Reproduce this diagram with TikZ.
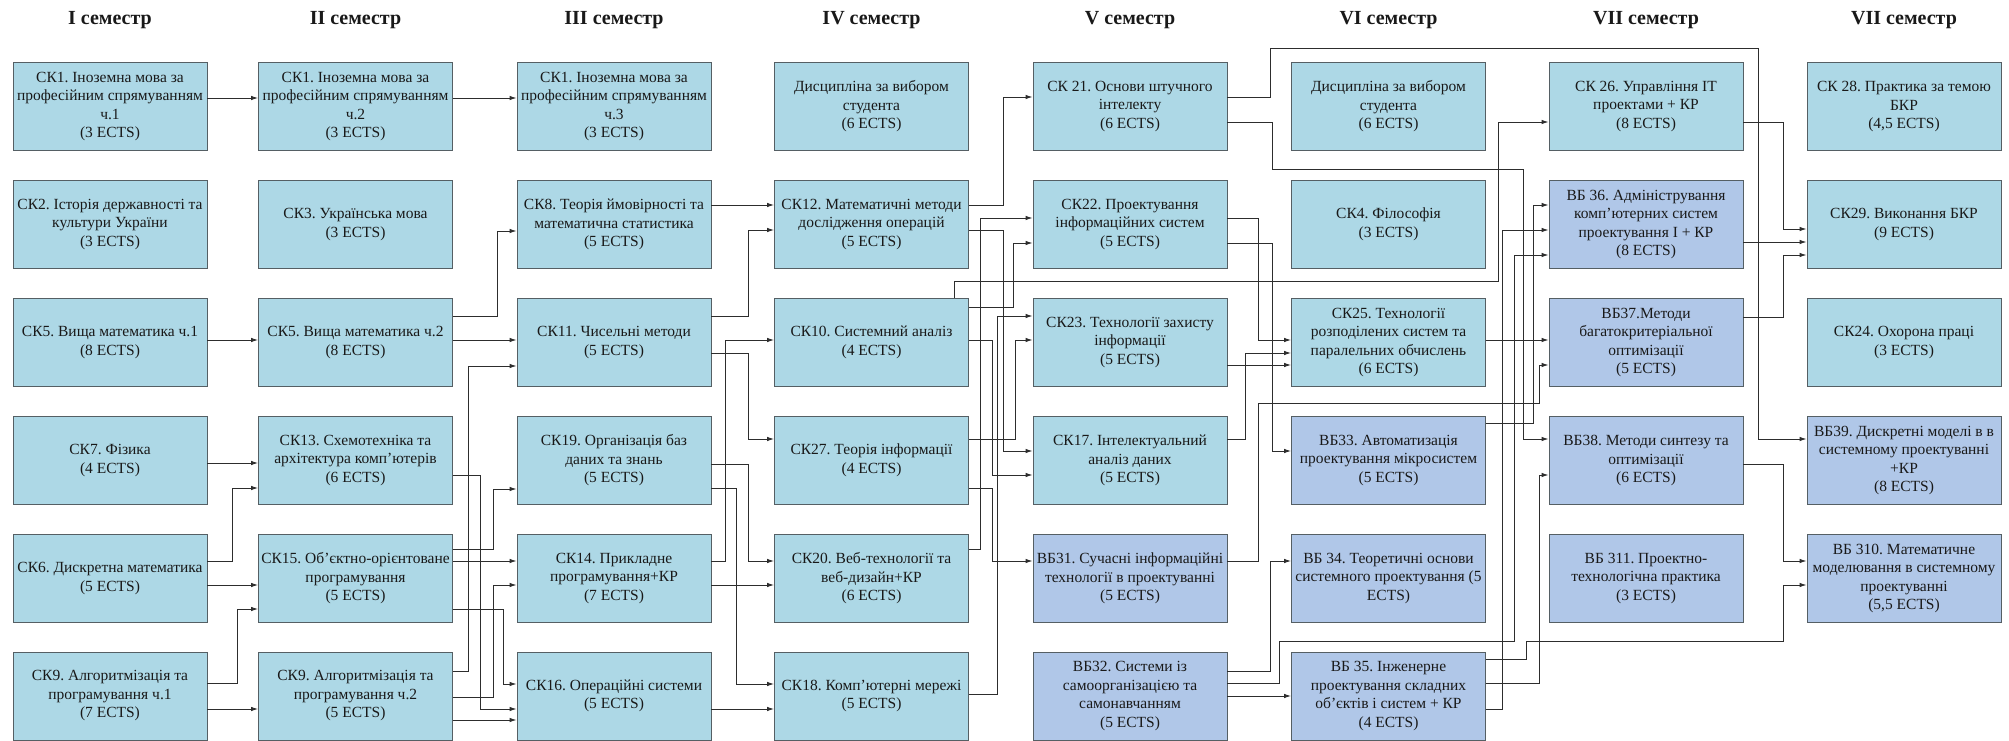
\documentclass[tikz,border=0pt]{standalone}
\usepackage{fontspec}
\setmainfont{Liberation Serif}
\usetikzlibrary{arrows.meta}
\frenchspacing
\definecolor{ckfill}{RGB}{173,216,230}
\definecolor{vbfill}{RGB}{176,199,232}
\definecolor{boxline}{RGB}{85,95,100}
\definecolor{linec}{RGB}{45,45,45}
\definecolor{txtc}{RGB}{25,25,25}
\newcommand\boxfont{\fontsize{15.5}{18.5}\selectfont}
\newcommand\cstr[3]{\draw[arr] (#1.east |- 0,#3) -- (#2.west |- 0,#3);}
\newcommand\cbnd[5]{\draw[arr] (#1.east |- 0,#3) -| (#4,#5) -- (#2.west |- 0,#5);}
\tikzset{
  ck/.style={draw=boxline, line width=0.9pt, fill=ckfill, minimum width=194pt, minimum height=88pt,
    inner sep=0pt, align=center, font=\boxfont, text=txtc},
  vb/.style={ck, fill=vbfill},
  hdr/.style={font=\bfseries\fontsize{20}{23}\selectfont, text=txtc},
  arr/.style={draw=linec, line width=0.9pt, -{Latex[length=7pt,width=4.5pt]}}
}
\begin{document}
\begin{tikzpicture}[x=1pt,y=-1pt]
\useasboundingbox (0,0) rectangle (2009,741);
\fill[white] (0,0) rectangle (2009,741);
% headers
\node[hdr] (t1) at (110,20) {I семестр};
\node[hdr] (t2) at (355.5,20) {II семестр};
\node[hdr] (t3) at (614,20) {III семестр};
\node[hdr] (t4) at (871.5,20) {IV семестр};
\node[hdr] (t5) at (1130,20) {V семестр};
\node[hdr] (t6) at (1388.5,20) {VI семестр};
\node[hdr] (t7) at (1646,20) {VII семестр};
\node[hdr] (t8) at (1904,20) {VII семестр};
% column 1
\node[ck] (a1) at (110,106.5) {СК1. Іноземна мова за\\професійним спрямуванням\\ч.1\\(3 ECTS)};
\node[ck] (a2) at (110,224.5) {СК2. Історія державності та\\культури України\\(3 ECTS)};
\node[ck] (a3) at (110,342.5) {СК5. Вища математика ч.1\\(8 ECTS)};
\node[ck] (a4) at (110,460.5) {СК7. Фізика\\(4 ECTS)};
\node[ck] (a5) at (110,578.5) {СК6. Дискретна математика\\(5 ECTS)};
\node[ck] (a6) at (110,696) {СК9. Алгоритмізація та\\програмування ч.1\\(7 ECTS)};
% column 2
\node[ck] (b1) at (355.5,106.5) {СК1. Іноземна мова за\\професійним спрямуванням\\ч.2\\(3 ECTS)};
\node[ck] (b2) at (355.5,224.5) {СК3. Українська мова\\(3 ECTS)};
\node[ck] (b3) at (355.5,342.5) {СК5. Вища математика ч.2\\(8 ECTS)};
\node[ck] (b4) at (355.5,460.5) {СК13. Схемотехніка та\\архітектура комп'ютерів\\(6 ECTS)};
\node[ck] (b5) at (355.5,578.5) {СК15. Об'єктно-орієнтоване\\програмування\\(5 ECTS)};
\node[ck] (b6) at (355.5,696) {СК9. Алгоритмізація та\\програмування ч.2\\(5 ECTS)};
% column 3
\node[ck] (c1) at (614,106.5) {СК1. Іноземна мова за\\професійним спрямуванням\\ч.3\\(3 ECTS)};
\node[ck] (c2) at (614,224.5) {СК8. Теорія ймовірності та\\математична статистика\\(5 ECTS)};
\node[ck] (c3) at (614,342.5) {СК11. Чисельні методи\\(5 ECTS)};
\node[ck] (c4) at (614,460.5) {СК19. Організація баз\\даних та знань\\(5 ECTS)};
\node[ck] (c5) at (614,578.5) {СК14. Прикладне\\програмування+КР\\(7 ECTS)};
\node[ck] (c6) at (614,696) {СК16. Операційні системи\\(5 ECTS)};
% column 4
\node[ck] (d1) at (871.5,106.5) {Дисципліна за вибором\\студента\\(6 ECTS)};
\node[ck] (d2) at (871.5,224.5) {СК12. Математичні методи\\дослідження операцій\\(5 ECTS)};
\node[ck] (d3) at (871.5,342.5) {СК10. Системний аналіз\\(4 ECTS)};
\node[ck] (d4) at (871.5,460.5) {СК27. Теорія інформації\\(4 ECTS)};
\node[ck] (d5) at (871.5,578.5) {СК20. Веб-технології та\\веб-дизайн+КР\\(6 ECTS)};
\node[ck] (d6) at (871.5,696) {СК18. Комп'ютерні мережі\\(5 ECTS)};
% column 5
\node[ck] (e1) at (1130,106.5) {СК 21. Основи штучного\\інтелекту\\(6 ECTS)};
\node[ck] (e2) at (1130,224.5) {СК22. Проектування\\інформаційних систем\\(5 ECTS)};
\node[ck] (e3) at (1130,342.5) {СК23. Технології захисту\\інформації\\(5 ECTS)};
\node[ck] (e4) at (1130,460.5) {СК17. Інтелектуальний\\аналіз даних\\(5 ECTS)};
\node[vb] (e5) at (1130,578.5) {ВБ31. Сучасні інформаційні\\технології в проектуванні\\(5 ECTS)};
\node[vb] (e6) at (1130,696) {ВБ32. Системи із\\самоорганізацією та\\самонавчанням\\(5 ECTS)};
% column 6
\node[ck] (f1) at (1388.5,106.5) {Дисципліна за вибором\\студента\\(6 ECTS)};
\node[ck] (f2) at (1388.5,224.5) {СК4. Філософія\\(3 ECTS)};
\node[ck] (f3) at (1388.5,342.5) {СК25. Технології\\розподілених систем та\\паралельних обчислень\\(6 ECTS)};
\node[vb] (f4) at (1388.5,460.5) {ВБ33. Автоматизація\\проектування мікросистем\\(5 ECTS)};
\node[vb] (f5) at (1388.5,578.5) {ВБ 34. Теоретичні основи\\системного проектування (5\\ECTS)};
\node[vb] (f6) at (1388.5,696) {ВБ 35. Інженерне\\проектування складних\\об’єктів і систем + КР\\(4 ECTS)};
% column 7
\node[ck] (g1) at (1646,106.5) {СК 26. Управління IT\\проектами + КР\\(8 ECTS)};
\node[vb] (g2) at (1646,224.5) {ВБ 36. Адміністрування\\комп’ютерних систем\\проектування І + КР\\(8 ECTS)};
\node[vb] (g3) at (1646,342.5) {ВБ37.Методи\\багатокритеріальної\\оптимізації\\(5 ECTS)};
\node[vb] (g4) at (1646,460.5) {ВБ38. Методи синтезу та\\оптимізації\\(6 ECTS)};
\node[vb] (g5) at (1646,578.5) {ВБ 311. Проектно-\\технологічна практика\\(3 ECTS)};
% column 8
\node[ck] (h1) at (1904,106.5) {СК 28. Практика за темою\\БКР\\(4,5 ECTS)};
\node[ck] (h2) at (1904,224.5) {СК29. Виконання БКР\\(9 ECTS)};
\node[ck] (h3) at (1904,342.5) {СК24. Охорона праці\\(3 ECTS)};
\node[vb] (h4) at (1904,460.5) {ВБ39. Дискретні моделі в в\\системному проектуванні\\+КР\\(8 ECTS)};
\node[vb] (h5) at (1904,578.5) {ВБ 310. Математичне\\моделювання в системному\\проектуванні\\(5,5 ECTS)};
% connectors col1 -> col2
\cstr{a1}{b1}{98}
\cstr{a3}{b3}{340}
\cstr{a4}{b4}{463}
\cbnd{a5}{b4}{561}{232}{488}
\cstr{a5}{b5}{585}
\cbnd{a6}{b5}{683}{237}{609}
\cstr{a6}{b6}{709}
% col2 -> col3
\cstr{b1}{c1}{98}
\cbnd{b3}{c2}{316}{497}{231}
\cstr{b3}{c3}{340}
\cbnd{b6}{c3}{671}{468}{366}
\cbnd{b4}{c6}{475}{480}{709}
\cbnd{b5}{c4}{549}{493}{489}
\cstr{b5}{c5}{561}
\cbnd{b5}{c6}{609}{503}{684}
\cbnd{b6}{c5}{697}{493}{585}
\cstr{b6}{c6}{720}
% col3 -> col4
\cstr{c2}{d2}{205}
\cbnd{c3}{d2}{316}{748}{230}
\cbnd{c3}{d4}{353}{748}{439}
\cbnd{c4}{d5}{464}{748}{561}
\cbnd{c4}{d6}{488}{736}{684}
\cbnd{c5}{d3}{561}{725}{340}
\cstr{c5}{d5}{585}
\cstr{c6}{d6}{709}
% col4 -> col5
\cbnd{d2}{e1}{205}{1003}{97}
\cbnd{d2}{e4}{230}{1003}{451}
\draw[arr] (d3.north -| 954,0) |- (1498,281) |- (g1.west |- 0,122);
\cbnd{d3}{e2}{307}{1013}{243}
\cbnd{d3}{e4}{340}{992}{475}
\cbnd{d4}{e3}{439}{1015}{340}
\cbnd{d4}{e5}{488}{992}{561}
\cbnd{d5}{e2}{549}{980}{218}
\cbnd{d6}{e3}{694}{997}{316}
% col5 -> further
\draw[arr] (e1.east |- 0,97) -| (1270,48) -| (1758,439) -- (h4.west |- 0,439);
\draw[arr] (e1.east |- 0,122) -| (1272,169) -| (1523,439) -- (g4.west |- 0,439);
\cbnd{e2}{f3}{218}{1258}{340}
\cbnd{e2}{f4}{243}{1272}{451}
\cstr{e3}{f3}{365}
\cbnd{e4}{f3}{439}{1245}{353}
\draw[arr] (e5.east |- 0,561) -| (1258,403) -| (1539,365) -- (g3.west |- 0,365);
\cbnd{e6}{f5}{671}{1270}{561}
\draw[arr] (e6.east |- 0,683) -| (1279,641) -| (1514,255) -- (g2.west |- 0,255);
\cstr{e6}{f6}{696}
% col6 -> col7/8
\cstr{f3}{g3}{340}
\cbnd{f4}{g2}{423}{1533}{205}
\cbnd{f6}{g2}{709}{1502}{230}
\draw[arr] (f6.east |- 0,659) -| (1526,641) -| (1783,585) -- (h5.west |- 0,585);
\cbnd{f6}{g4}{683}{1539}{475}
% col7 -> col8
\cbnd{g1}{h2}{122}{1783}{229}
\cstr{g2}{h2}{242}
\cbnd{g3}{h2}{317}{1783}{255}
\cbnd{g4}{h5}{464}{1783}{561}
\end{tikzpicture}
\end{document}
